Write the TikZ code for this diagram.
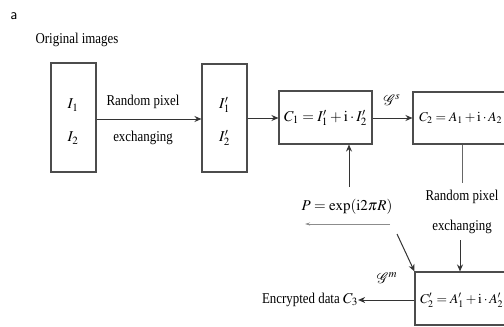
\documentclass[tikz,border=0pt]{standalone}
\usepackage{mathptmx}
\usepackage{fontspec}
\setmainfont{Liberation Serif}[FakeStretch=0.86]
\usetikzlibrary{arrows.meta}
\begin{document}
\begin{tikzpicture}[x=1pt,y=-1pt,
  box/.style={draw=black!70,line width=1.1pt,inner sep=0pt},
  lbl/.style={inner sep=0pt,font=\fontsize{15}{17}\selectfont},
  mth/.style={inner sep=0pt,font=\fontsize{13.5}{16}\selectfont},
  arr/.style={draw=black!80,line width=1pt,-{Stealth[length=7pt,width=6pt]}},
  ln/.style={draw=black!60,line width=0.9pt}]
\useasboundingbox (0,0) rectangle (504,327);
\clip (0,0) rectangle (504,327);
% labels
\node[inner sep=0pt,font=\sffamily\fontsize{15}{16}\selectfont] (tag) at (14,16) {a};
\node[lbl] (orig) at (77,40) {Original images};
% boxes
\node[box,minimum width=45pt,minimum height=109pt] (b1) at (73.5,117.5) {};
\node[box,minimum width=45pt,minimum height=108pt] (b2) at (224.5,118) {};
\node[box,minimum width=93pt,minimum height=53pt] (b3) at (325.5,117.5) {};
\node[box,minimum width=98pt,minimum height=52pt] (b4) at (462,118) {};
\node[box,minimum width=96pt,minimum height=53pt] (b5) at (463,298.5) {};
% box contents
\node[lbl] (i1) at (73,105) {$I_1$};
\node[lbl] (i2) at (73,138) {$I_2$};
\node[lbl] (j1) at (224.5,105) {$I'_1$};
\node[lbl] (j2) at (224.5,138) {$I'_2$};
\node[lbl] (c1) at (325.5,118) {$C_1=I'_1+\mathrm{i}\cdot I'_2$};
\node[mth,anchor=west] (c2) at (419,118) {$C_2=A_1+\mathrm{i}\cdot A_2$};
\node[mth,anchor=west] (c3) at (420,300) {$C'_2=A'_1+\mathrm{i}\cdot A'_2$};
% horizontal flow
\node[lbl] (rp1) at (143,102) {Random pixel};
\node[lbl] (ex1) at (143,138) {exchanging};
\draw[arr] (b1.east |- 0,119) -- (b2.west |- 0,119);
\draw[arr] (b2.east |- 0,118) -- (b3.west |- 0,118);
\draw[arr] (b3.east |- 0,118) -- (b4.west |- 0,118);
\node[lbl] (gs) at (392,100) {$\mathcal{G}^{s}$};
% right column
\node[lbl] (rp2) at (462,197) {Random pixel};
\node[lbl] (ex2) at (462,227) {exchanging};
\coordinate (rpt) at (462,183);
\draw[ln] (b4.south -| rpt) -- (rpt);
\coordinate (ea) at (460,240);
\draw[arr] (ea) -- (ea |- b5.north);
% phase mask
\node[lbl] (pm) at (347,207) {$P=\exp\!\left(\mathrm{i}2\pi R\right)$};
\coordinate (pa) at (349,187);
\draw[arr] (pa) -- (pa |- b3.south);
\coordinate (ul1) at (390,224);
\coordinate (ul2) at (305,224);
\draw[draw=black!45,line width=0.8pt,-{Stealth[length=5pt,width=3pt]}] (ul1) -- (ul2);
\coordinate (da) at (397,234);
\draw[arr] (da) -- (b5.north west);
% output
\node[lbl] (enc) at (310,300) {Encrypted data $C_3$};
\draw[arr] (b5.west |- 0,300) -- (enc.east |- 0,300);
\node[lbl] (gm) at (387,278) {$\mathcal{G}^{m}$};
\end{tikzpicture}
\end{document}
